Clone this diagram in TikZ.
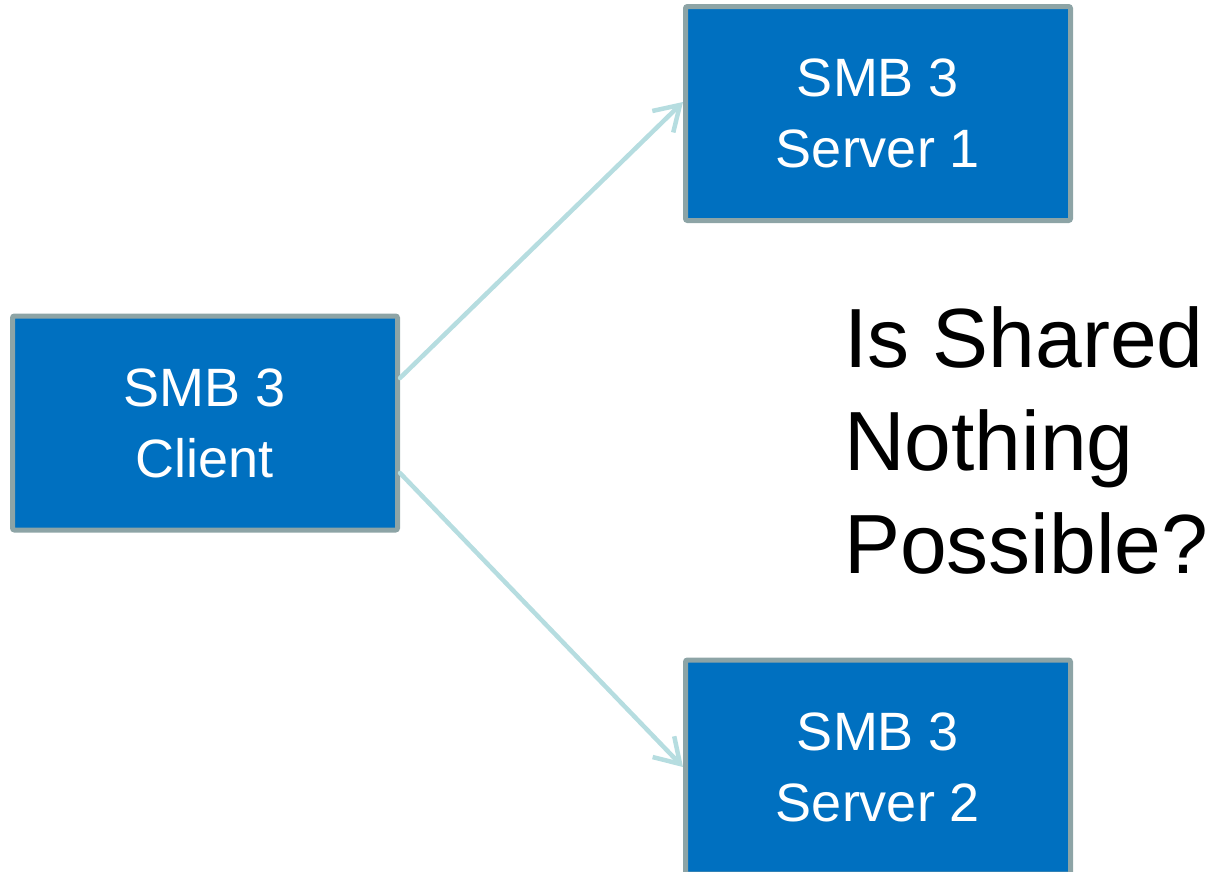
\documentclass[tikz,border=0pt]{standalone}
\usepackage{fontspec}
\setmainfont{Liberation Sans}
\usetikzlibrary{arrows.meta,calc}
\definecolor{boxfill}{HTML}{0070C0}
\definecolor{boxedge}{HTML}{8DA4A6}
\definecolor{linkcol}{HTML}{B6DDE0}
\tikzset{
  smbbox/.style={draw=boxedge, fill=boxfill, line width=5pt, rounded corners=2pt,
    minimum width=385pt, minimum height=214pt, inner sep=0pt,
    text=white, align=center, font=\fontsize{54}{71}\selectfont},
  link/.style={draw=linkcol, line width=4.5pt, line cap=round,
    -{Straight Barb[length=24pt,width=30pt]}},
  question/.style={align=left, inner sep=0pt, text=black,
    font=\fontsize{84}{103}\selectfont}
}
\begin{document}
\begin{tikzpicture}[x=1pt,y=-1pt]
  \useasboundingbox (0,0) rectangle (1212,871);
  % client and the two servers
  \node[smbbox] (client) at (205,423)   {SMB 3\\Client};
  \node[smbbox] (srvA)   at (878,113.5) {SMB 3\\Server 1};
  \node[smbbox] (srvB)   at (878,767)   {SMB 3\\Server 2};
  % connections from the client to each server
  \draw[link] ($(client.east)+(0,-45)$) -- ($(srvA.west)+(0,-11.5)$);
  \draw[link] ($(client.east)+(0,50)$)  -- ($(srvB.west)+(0,0)$);
  % side question (base anchor sits on the last line)
  \node[question, anchor=base west] (q) at (844,573) {Is Shared\\Nothing\\Possible?};
\end{tikzpicture}
\end{document}
